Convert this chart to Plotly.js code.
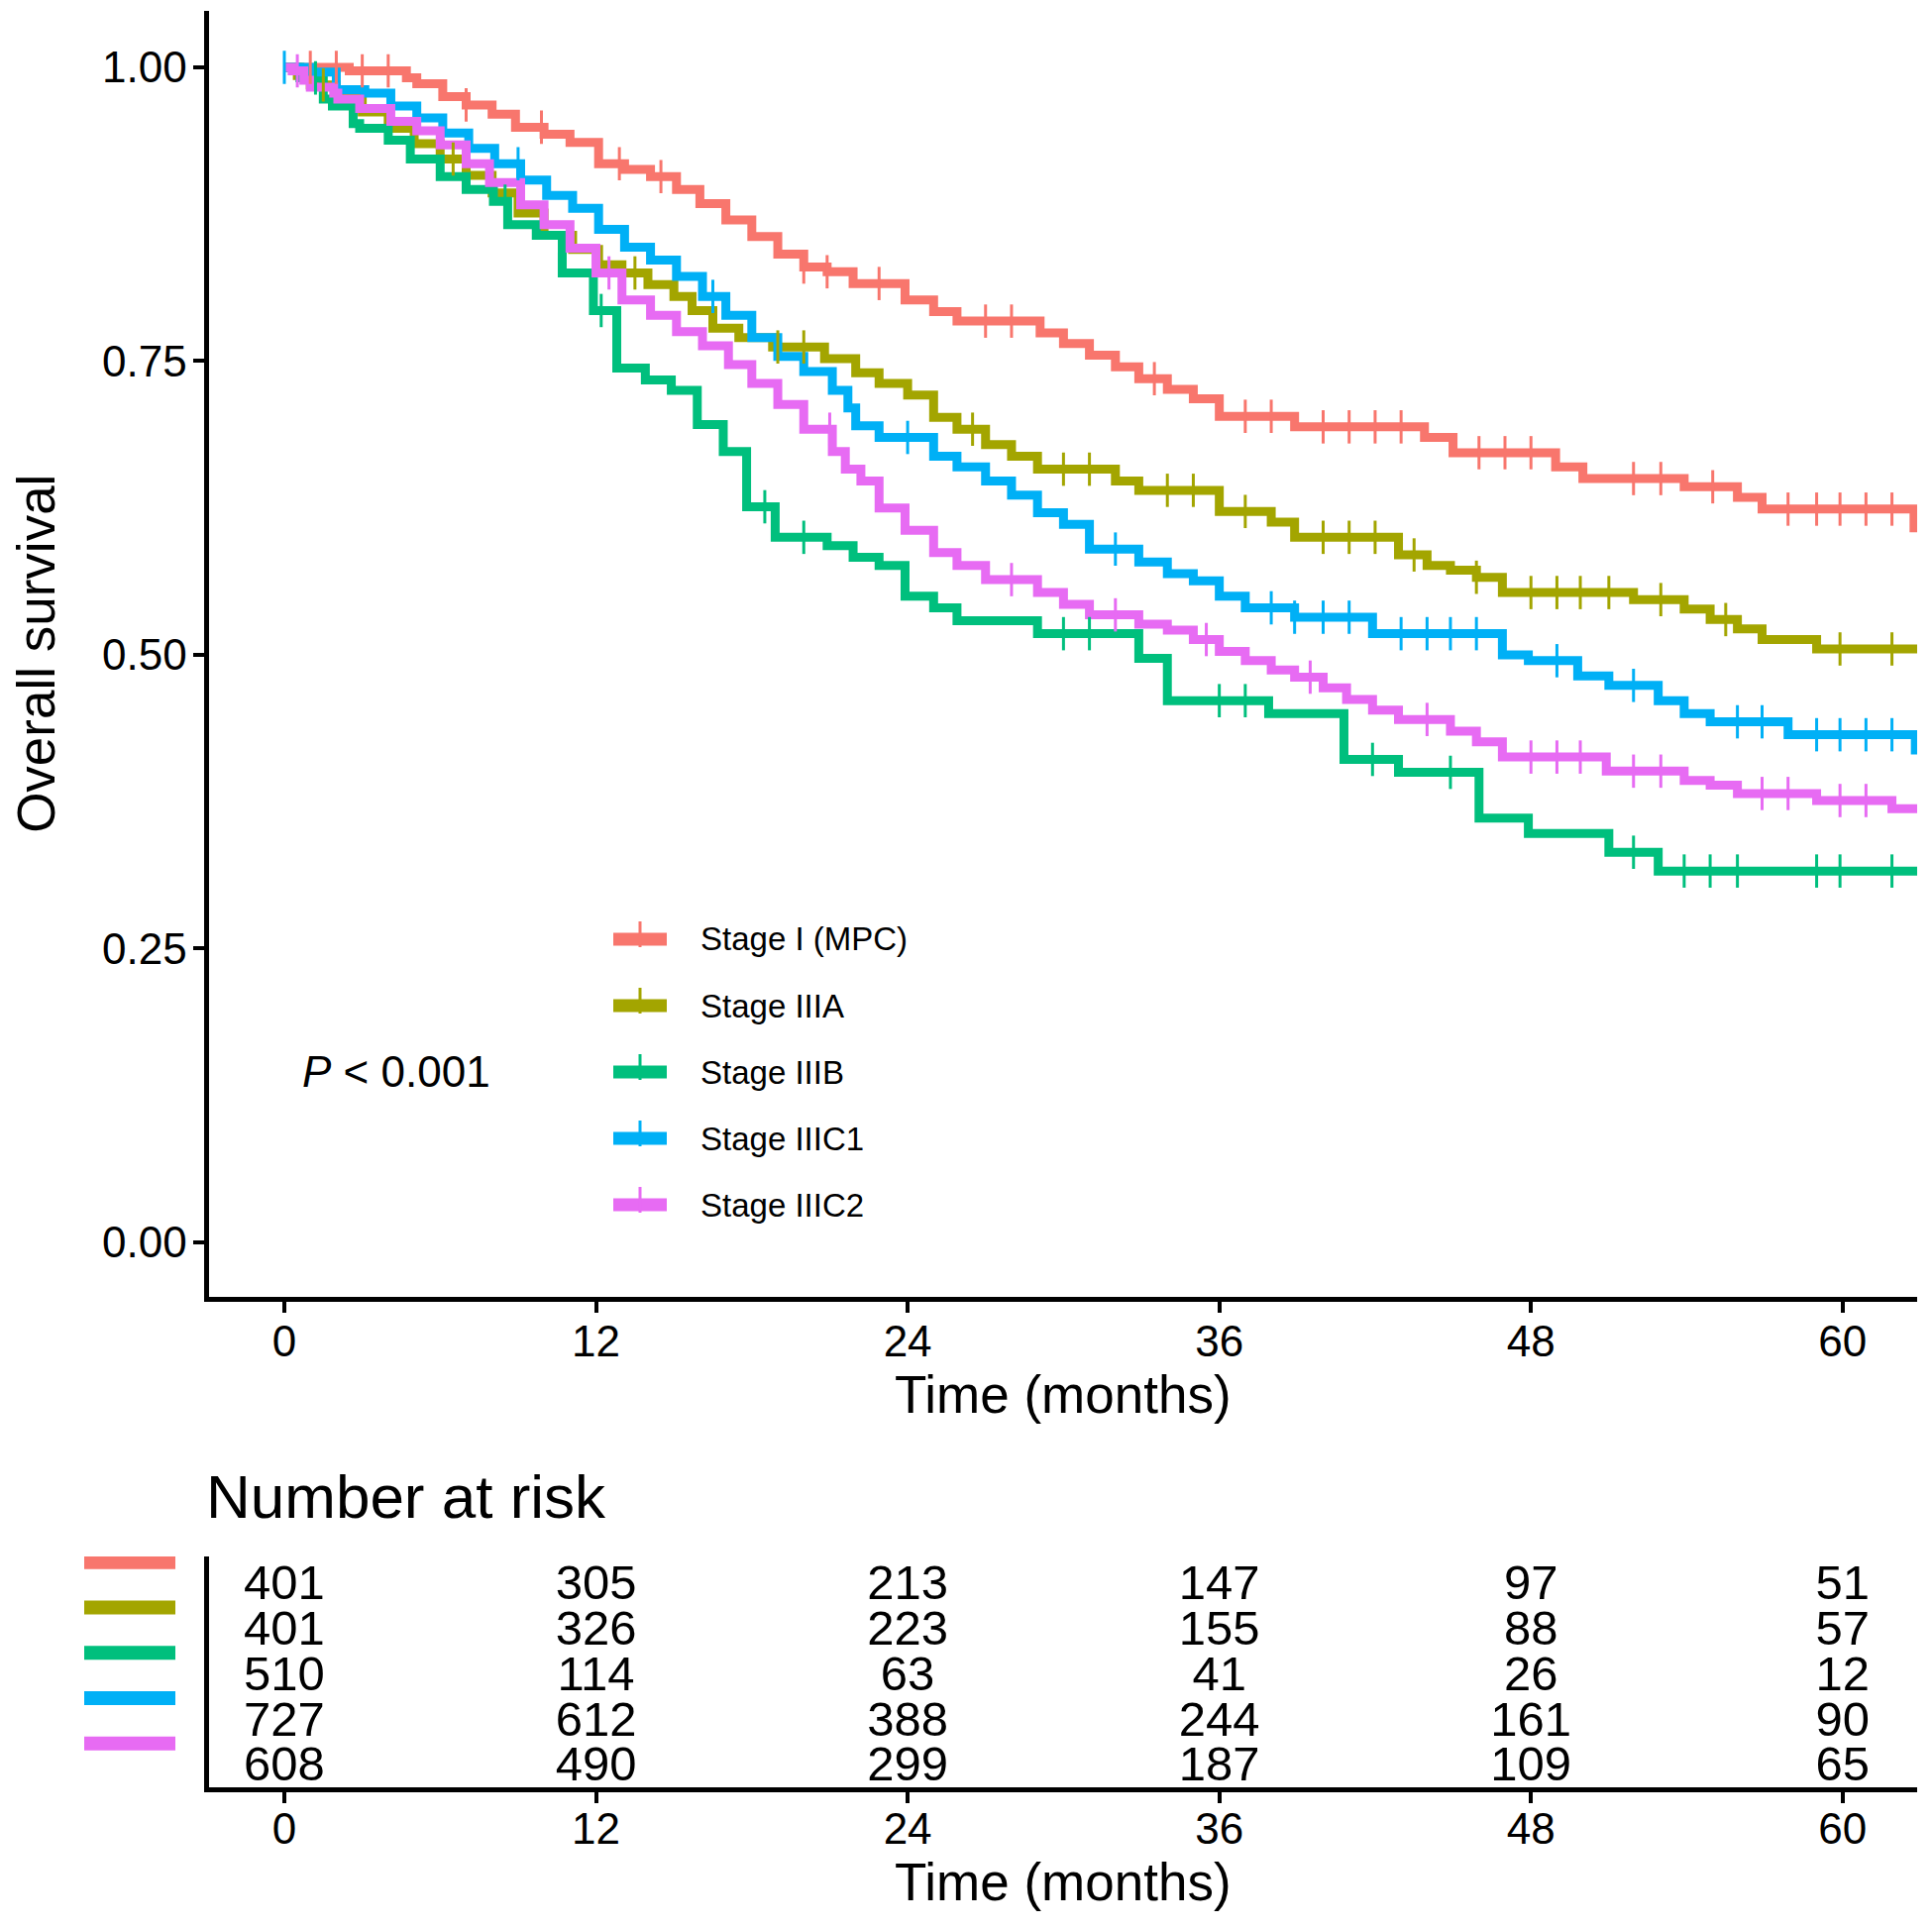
<!DOCTYPE html>
<html><head><meta charset="utf-8">
<script src="https://cdn.plot.ly/plotly-3.0.1.min.js"></script>
<style>html,body{margin:0;padding:0;background:#fff}</style>
</head><body><div id="chart" style="width:1950px;height:1946px"></div>
<script>
const seriesNames = ['Stage I (MPC)','Stage IIIA','Stage IIIB','Stage IIIC1','Stage IIIC2'];
const seriesColors = ['#F8766D','#A3A500','#00BF7D','#00B0F6','#E76BF3'];

// Kaplan-Meier step curves (time in months, survival)
const stageI_t = [0,2.5,4.7,5.1,6.1,7.0,8.0,8.9,10.0,11.0,12.1,13.1,14.1,15.1,16.0,17.0,18.0,19.0,20.0,20.9,21.9,23.9,25.0,25.9,29.1,30.0,31.0,32.0,32.9,34.0,35.0,36.0,38.9,43.9,45.0,48.95,50.0,53.9,55.95,56.9,62.75];
const stageI_s = [1.000,0.997,0.991,0.986,0.975,0.968,0.960,0.949,0.943,0.936,0.918,0.913,0.907,0.896,0.884,0.870,0.856,0.841,0.830,0.826,0.816,0.802,0.792,0.784,0.774,0.765,0.755,0.745,0.735,0.726,0.718,0.703,0.694,0.685,0.672,0.660,0.650,0.643,0.634,0.624,0.608];

const stageIIIA_t = [0,0.5,1.0,2.0,3.0,4.0,5.0,6.0,7.0,8.0,9.0,10.0,11.1,12.1,13.0,14.0,15.0,15.7,16.5,17.5,18.8,20.8,22.0,22.9,24.0,25.0,25.9,27.0,28.0,29.0,32.0,32.9,36.0,38.0,38.9,42.9,44.0,44.9,45.9,46.9,51.95,53.9,54.9,55.95,56.9,59.0];
const stageIIIA_s = [1.000,0.993,0.985,0.975,0.962,0.948,0.935,0.922,0.908,0.893,0.876,0.857,0.845,0.832,0.825,0.815,0.805,0.793,0.778,0.770,0.762,0.752,0.740,0.731,0.721,0.702,0.692,0.679,0.669,0.658,0.648,0.640,0.622,0.613,0.600,0.585,0.576,0.572,0.566,0.553,0.547,0.539,0.530,0.522,0.513,0.505];

const stageIIIB_t = [0,0.6,1.5,1.85,2.65,2.9,4.0,4.85,6.0,7.0,8.05,8.6,9.7,10.7,11.9,12.8,13.9,14.9,15.9,16.9,17.8,18.9,20.9,21.9,22.9,23.9,25.0,25.9,29.0,32.9,34.0,37.9,40.8,42.9,46.0,47.9,51.0,52.9];
const stageIIIB_s = [1.000,0.991,0.973,0.967,0.952,0.948,0.938,0.922,0.907,0.896,0.886,0.866,0.857,0.825,0.793,0.744,0.734,0.725,0.696,0.673,0.626,0.600,0.593,0.583,0.576,0.550,0.540,0.529,0.518,0.497,0.461,0.450,0.411,0.400,0.361,0.348,0.332,0.316];

const stageIIIC1_t = [0,1.0,2.0,3.1,4.1,5.1,6.1,7.1,8.1,9.1,10.1,11.1,12.1,13.1,14.1,15.1,16.1,17.0,18.0,19.0,20.0,21.1,21.7,22.0,22.9,25.0,25.9,27.0,28.0,29.0,30.0,31.0,32.9,34.0,35.0,36.0,37.0,38.9,41.9,46.9,47.9,49.8,51.0,52.9,53.9,54.9,57.9,62.8];
const stageIIIC1_s = [1.000,0.996,0.981,0.978,0.967,0.957,0.944,0.931,0.918,0.904,0.891,0.880,0.862,0.847,0.836,0.822,0.805,0.789,0.770,0.754,0.741,0.725,0.710,0.695,0.685,0.669,0.660,0.648,0.636,0.621,0.611,0.590,0.579,0.569,0.563,0.550,0.540,0.532,0.518,0.500,0.495,0.482,0.474,0.461,0.450,0.443,0.432,0.419];

const stageIIIC2_t = [0,0.3,0.75,1.0,1.9,2.06,2.9,4.1,5.1,6.0,7.0,7.9,9.1,10.0,11.0,12.0,13.0,14.1,15.1,16.1,17.1,18.0,19.0,20.0,21.1,21.6,22.2,22.9,23.9,25.0,25.9,27.0,29.0,30.0,31.0,32.9,34.0,35.0,36.0,37.0,38.0,38.9,40.0,40.9,41.9,42.9,44.9,45.9,46.9,50.9,53.9,54.9,55.95,59.0,61.9];
const stageIIIC2_s = [1.000,0.997,0.989,0.983,0.978,0.973,0.965,0.954,0.946,0.934,0.918,0.902,0.883,0.866,0.846,0.825,0.802,0.789,0.775,0.763,0.747,0.731,0.713,0.692,0.673,0.658,0.648,0.625,0.606,0.587,0.576,0.564,0.553,0.543,0.534,0.526,0.521,0.513,0.503,0.495,0.487,0.481,0.472,0.462,0.453,0.445,0.435,0.426,0.413,0.401,0.393,0.389,0.382,0.376,0.369];

// Censoring times (months)
const stageI_cens = [1.0,2.0,3.0,4.0,7.0,9.9,12.9,14.5,20.0,20.9,22.9,27.0,28.0,33.5,37.0,38.0,40.0,41.0,42.0,43.0,46.0,47.0,48.0,51.95,53.0,55.0,57.9,59.0,59.9,60.9,61.9];
const stageIIIA_cens = [1.5,6.5,13.5,19.0,20.0,26.5,30.0,31.0,34.0,35.0,37.0,40.0,41.0,42.0,43.5,45.9,48.0,49.0,49.9,51.0,53.0,55.5,59.9,61.9];
const stageIIIB_cens = [1.2,8.5,12.2,18.5,20.0,30.0,31.0,36.0,37.0,41.9,44.9,51.95,53.9,54.9,55.95,59.0,59.9,61.9];
const stageIIIC1_cens = [0.0,9.0,16.5,24.0,32.0,38.0,38.9,40.0,41.0,43.0,44.0,44.9,45.9,49.0,51.95,55.95,56.9,59.0,59.9,60.9,61.9];
const stageIIIC2_cens = [0.5,12.5,21.0,28.0,32.0,35.5,39.5,44.0,48.0,49.0,49.9,51.95,53.0,56.9,57.9,59.9,60.9];

// Number at risk table
const riskTimes = [0,12,24,36,48,60];
const riskStageI = [401,305,213,147,97,51];
const riskStageIIIA = [401,326,223,155,88,57];
const riskStageIIIB = [510,114,63,41,26,12];
const riskStageIIIC1 = [727,612,388,244,161,90];
const riskStageIIIC2 = [608,490,299,187,109,65];

const xTicks = [0,12,24,36,48,60];
const yTicks = [0,0.25,0.5,0.75,1];
const yTickText = ['0.00','0.25','0.50','0.75','1.00'];
const pValueText = '<i>P</i> &lt; 0.001';

const curveT = [stageI_t,stageIIIA_t,stageIIIB_t,stageIIIC1_t,stageIIIC2_t];
const curveS = [stageI_s,stageIIIA_s,stageIIIB_s,stageIIIC1_s,stageIIIC2_s];
const censT = [stageI_cens,stageIIIA_cens,stageIIIB_cens,stageIIIC1_cens,stageIIIC2_cens];
const riskRows = [riskStageI,riskStageIIIA,riskStageIIIB,riskStageIIIC1,riskStageIIIC2];

const W = 1950, H = 1946;
const FONT = 'Liberation Sans, Arial, sans-serif';
const X_RANGE = [-2.918, 62.87];

function survAt(ts, ss, t){ let v = ss[0]; for(let i=0;i<ts.length;i++){ if(ts[i]<=t) v=ss[i]; } return v; }

const traces = [];
// step curves
for(let k=0;k<5;k++){
  const xs = curveT[k].slice(); const ys = curveS[k].slice();
  xs.push(X_RANGE[1]); ys.push(ys[ys.length-1]);
  traces.push({type:'scatter', mode:'lines', x:xs, y:ys, xaxis:'x', yaxis:'y',
    line:{shape:'hv', width:9, color:seriesColors[k]}, name:seriesNames[k],
    showlegend:false, hoverinfo:'skip'});
}
// censor marks
for(let k=0;k<5;k++){
  const xs = censT[k];
  const ys = xs.map(t=>survAt(curveT[k],curveS[k],t));
  traces.push({type:'scatter', mode:'markers', x:xs, y:ys, xaxis:'x', yaxis:'y',
    marker:{symbol:'line-ns', size:24, color:seriesColors[k], line:{width:3, color:seriesColors[k]}},
    name:seriesNames[k]+' censored', showlegend:false, hoverinfo:'skip'});
}
// risk table numbers
for(let k=0;k<5;k++){
  traces.push({type:'scatter', mode:'text', x:riskTimes, y:riskTimes.map(()=>k),
    text:riskRows[k].map(String), textposition:'middle center',
    textfont:{family:FONT, size:49, color:'#000'}, xaxis:'x2', yaxis:'y2',
    showlegend:false, hoverinfo:'skip', cliponaxis:false});
}

const px2x = p => p/W;
const px2y = p => 1 - p/H;

const axisCommon = {
  showgrid:false, zeroline:false, showline:true, linewidth:5, linecolor:'#000',
  ticks:'outside', ticklen:11, tickwidth:4, tickcolor:'#000',
  tickfont:{family:FONT, size:44, color:'#000'}
};

// legend drawn manually: colored line with a censor tick, then label text
const LEG_Y0 = 948, LEG_DY = 67;
const shapes = [];
const annotations = [];
seriesNames.forEach((nm,k)=>{
  const cy = LEG_Y0 + LEG_DY*k;
  shapes.push({type:'line', xref:'paper', yref:'paper', x0:px2x(619), x1:px2x(673), y0:px2y(cy), y1:px2y(cy),
    line:{color:seriesColors[k], width:13}});
  shapes.push({type:'line', xref:'paper', yref:'paper', x0:px2x(646), x1:px2x(646), y0:px2y(cy-18), y1:px2y(cy+8),
    line:{color:seriesColors[k], width:3}});
  annotations.push({xref:'paper', yref:'paper', x:px2x(705), y:px2y(cy), xanchor:'left', yanchor:'middle',
    showarrow:false, text:nm, font:{family:FONT, size:33, color:'#000'}});
});
// risk table color keys
riskRows.forEach((r,k)=>{
  shapes.push({type:'line', xref:'paper', yref:'y2', x0:px2x(85), x1:px2x(177), y0:k-0.55, y1:k-0.55,
    line:{color:seriesColors[k], width:14}});
});
annotations.push({xref:'x', yref:'y', x:0.6, y:0.145, xanchor:'left', yanchor:'middle', showarrow:false,
  text:pValueText, font:{family:FONT, size:44, color:'#000'}});
annotations.push({xref:'paper', yref:'paper', x:px2x(206), y:px2y(1510), xanchor:'left', yanchor:'middle', showarrow:false,
  text:'Number at risk', font:{family:FONT, size:62, color:'#000'}});

const layout = {
  width:W, height:H, margin:{l:0,r:0,t:0,b:0},
  paper_bgcolor:'#fff', plot_bgcolor:'#fff',
  font:{family:FONT, color:'#000'},
  showlegend:false,
  xaxis: Object.assign({}, axisCommon, {domain:[px2x(210.5), px2x(1935)], range:X_RANGE, tickvals:xTicks,
    anchor:'y', ticklabelstandoff:-8, title:{text:'Time (months)', font:{family:FONT,size:53,color:'#000'}, standoff:9}}),
  yaxis: Object.assign({}, axisCommon, {domain:[px2y(1308.5), px2y(11)], range:[-0.046,1.048], tickvals:yTicks, ticktext:yTickText,
    anchor:'x', ticklabelstandoff:-3, title:{text:'Overall survival', font:{family:FONT,size:53,color:'#000'}, standoff:32}}),
  xaxis2: Object.assign({}, axisCommon, {domain:[px2x(210.5), px2x(1935)], range:X_RANGE, tickvals:xTicks,
    anchor:'y2', ticklabelstandoff:-12, title:{text:'Time (months)', font:{family:FONT,size:53,color:'#000'}, standoff:9}}),
  yaxis2: {domain:[px2y(1804), px2y(1571)], range:[4.415,-0.678], anchor:'x2',
    showgrid:false, zeroline:false, showline:true, linewidth:5, linecolor:'#000',
    ticks:'', showticklabels:false},
  annotations:annotations,
  shapes:shapes
};

Plotly.newPlot('chart', traces, layout, {staticPlot:true, displayModeBar:false});
</script></body></html>
